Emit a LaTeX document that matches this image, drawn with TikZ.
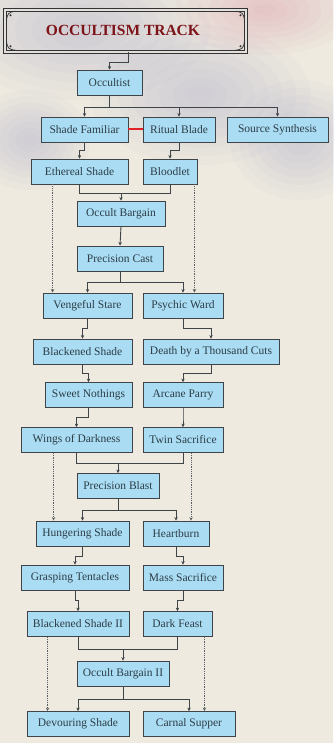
\documentclass[tikz,border=0pt]{standalone}
\usepackage{fontspec}
\setmainfont{Liberation Serif}
\usepackage{tikz}
\usetikzlibrary{positioning,calc}
\usetikzlibrary{arrows.meta}
\definecolor{Parchment}{RGB}{238,234,224}
\definecolor{BoxBlue}{RGB}{170,221,243}
\definecolor{BoxEdge}{RGB}{62,68,72}
\definecolor{InkSlate}{RGB}{44,60,70}
\definecolor{TitleRed}{RGB}{125,20,24}
\definecolor{PairRed}{RGB}{225,35,40}
\definecolor{WashLilac}{RGB}{160,162,200}
\definecolor{WashRose}{RGB}{215,140,160}
\tikzset{
	talent/.style={draw=BoxEdge,fill=BoxBlue,line width=0.9pt,minimum height=25pt,inner sep=0pt,
		text=InkSlate,font=\fontsize{11.5}{13}\selectfont},
	link/.style={draw=BoxEdge,line width=0.9pt},
	feed/.style={link,-{Stealth[length=3.5pt,width=3.4pt]}},
	hint/.style={draw=BoxEdge!85,line width=0.8pt,densely dotted,-{Stealth[length=3.5pt,width=3.4pt]}},
	pairline/.style={draw=PairRed,line width=2pt},
	banner/.style={draw=black!80,line width=1pt,double=Parchment!85!WashLilac,double distance=2pt,
		minimum width=241pt,minimum height=42pt,inner sep=0pt,text=TitleRed,
		font=\fontsize{15.5}{18}\selectfont\bfseries},
}

\begin{document}
\begin{tikzpicture}[x=1pt,y=-1pt]
	\useasboundingbox (0,0) rectangle (333,743);
	\fill[Parchment] (0,0) rectangle (333,743);
	% watercolour washes at the top
	\foreach \bx/\by/\rx/\ry/\col in {80/30/130/70/WashLilac,200/95/110/70/WashLilac,
		265/10/90/45/WashRose,300/140/70/60/WashLilac,30/140/60/50/WashLilac}
	\foreach \k in {1,...,8}
	\fill[\col,fill opacity=0.05] (\bx,\by) ellipse [x radius=\rx*\k/8, y radius=\ry*\k/8];

	% title banner
	\node[banner] (title) at (125.5,30.75) {\hspace*{-5pt}OCCULTISM TRACK};
	\foreach \c/\sx/\sy in {north west/1/1,north east/-1/1,south west/1/-1,south east/-1/-1}{
		\draw[black!80,line width=0.7pt] ([shift={(\sx*11,\sy*2)}]title.\c) .. controls ([shift={(\sx*4,\sy*3)}]title.\c) and ([shift={(\sx*3,\sy*4)}]title.\c) .. ([shift={(\sx*2,\sy*11)}]title.\c);
		\fill[black!80] ([shift={(\sx*6,\sy*6)}]title.\c) circle [radius=1.2];
	}

	% talents
	\foreach \n/\x/\y/\w/\t in {
		occultist/109.5/82.5/65/Occultist,
		shadefam/84.5/129.5/87/Shade Familiar,
		ritual/179/129.5/72/Ritual Blade,
		source/277.5/129.5/101/Source Synthesis,
		ethereal/79.5/171.5/97/Ethereal Shade,
		bloodlet/170/171.5/54/Bloodlet,
		bargain/121/213.5/88/Occult Bargain,
		cast/120/258.5/86/Precision Cast,
		vengeful/87.5/305.5/89/Vengeful Stare,
		psychic/183/305.5/80/Psychic Ward,
		blackened/82.5/351.5/99/Blackened Shade,
		death/211/351.5/136/Death by a Thousand Cuts,
		sweet/88.5/395/87/Sweet Nothings,
		parry/183/395/80/Arcane Parry,
		wings/76.5/440/111/Wings of Darkness,
		twin/183/440/80/Twin Sacrifice,
		blast/118/486/82/Precision Blast,
		hungering/82.5/533.5/93/Hungering Shade,
		heartburn/176/533.5/66/Heartburn,
		grasping/75/577.5/108/Grasping Tentacles,
		mass/183/577.5/80/Mass Sacrifice,
		blackenedII/78/624/102/Blackened Shade II,
		feast/177.5/624/69/Dark Feast,
		bargainII/123/673.5/92/Occult Bargain II,
		devouring/78/724/102/Devouring Shade,
		carnal/189/724/92/Carnal Supper}
	\node[talent,minimum width=\w pt] (\n) at (\x,\y) {\t};

	\draw[feed] ([xshift=2.5pt]title.south) -- ++(0,10) -| (occultist.north);
	\coordinate (koccultist) at ($(occultist.south)+(0,12)$);
	\draw[link] (occultist.south) -- (koccultist);
	\foreach \t in {shadefam,ritual,source}
	\draw[feed] (koccultist) -| (\t.north);
	\draw[pairline] (shadefam.east) -- (ritual.west);

	% one step down
	\foreach \a/\b/\d in {shadefam/ethereal/8,ritual/bloodlet/8,vengeful/blackened/10,psychic/death/10,
		blackened/sweet/9,death/parry/9,sweet/wings/9,parry/twin/9,hungering/grasping/10,
		heartburn/mass/10,grasping/blackenedII/10,mass/feast/10}
	\draw[feed] (\a.south) -- ++(0,\d) -| (\b.north);
	\draw[feed] (bargain.south) -- (cast.north);

	% two into one
	\foreach \l/\r/\t/\d in {ethereal/bloodlet/bargain/9,wings/twin/blast/10.5,blackenedII/feast/bargainII/12}{
		\coordinate (j\t) at ($(\l.south)+(0,\d)$);
		\draw[link] (\l.south) -- (j\t) -| (\r.south);
		\draw[feed] (\t.north |- j\t) -- (\t.north);
	}

	% one into two
	\foreach \s/\l/\r/\d in {cast/vengeful/psychic/11,blast/hungering/heartburn/11,bargainII/devouring/carnal/13}{
		\coordinate (k\s) at ($(\s.south)+(0,\d)$);
		\draw[link] (\s.south) -- (k\s);
		\draw[feed] (k\s) -| (\l.north);
		\draw[feed] (k\s) -| (\r.north);
	}

	% dotted skips
	\draw[hint] ([xshift=22pt]ethereal.south west) -- ([xshift=22pt]ethereal.south west |- vengeful.north);
	\draw[hint] ([xshift=-3pt]bloodlet.south east) -- ([xshift=-3pt]bloodlet.south east |- psychic.north);
	\draw[hint] ([xshift=33pt]wings.south west) -- ([xshift=33pt]wings.south west |- hungering.north);
	\draw[hint] ([xshift=8pt]twin.south) -- ([xshift=8pt]twin.south |- heartburn.north);
	\draw[hint] ([xshift=21pt]blackenedII.south west) -- ([xshift=21pt]blackenedII.south west |- devouring.north);
	\draw[hint] ([xshift=-8pt]feast.south east) -- ([xshift=-8pt]feast.south east |- carnal.north);
\end{tikzpicture}
\end{document}
